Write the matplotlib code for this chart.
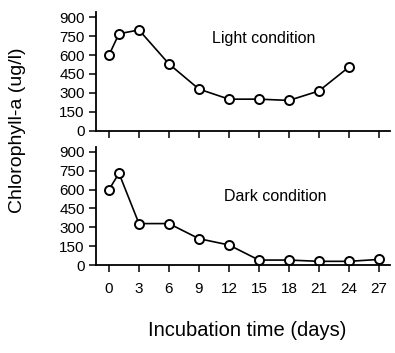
import matplotlib
matplotlib.use('Agg')
import matplotlib.pyplot as plt

plt.rcParams['font.family'] = ['Liberation Sans', 'DejaVu Sans']

days_light = [0, 1, 3, 6, 9, 12, 15, 18, 21, 24]
chl_light = [600, 770, 800, 530, 330, 250, 250, 240, 315, 505]

days_dark = [0, 1, 3, 6, 9, 12, 15, 18, 21, 24, 27]
chl_dark = [600, 730, 330, 330, 210, 160, 40, 40, 30, 30, 45]

xticks = [0, 3, 6, 9, 12, 15, 18, 21, 24, 27]
yticks = [0, 150, 300, 450, 600, 750, 900]

fig = plt.figure(figsize=(3.95, 3.53), dpi=100)
ax1 = fig.add_axes([0.243, 0.630, 0.744, 0.335])
ax2 = fig.add_axes([0.243, 0.249, 0.744, 0.335])

for ax, x, y, label, pos in [(ax1, days_light, chl_light, 'Light condition', (0.57, 0.78)),
                             (ax2, days_dark, chl_dark, 'Dark condition', (0.61, 0.58))]:
    ax.plot(x, y, color='black', lw=1.2, marker='o', markersize=6.5,
            markerfacecolor='white', markeredgecolor='black', markeredgewidth=1.4)
    ax.set_xlim(-1.3, 28.1)
    ax.set_ylim(0, 940)
    ax.set_xticks(xticks)
    ax.set_yticks(yticks)
    for s in ['top', 'right']:
        ax.spines[s].set_visible(False)
    for s in ['left', 'bottom']:
        ax.spines[s].set_linewidth(1.3)
    ax.tick_params(direction='out', length=5, width=1.1, labelsize=11, pad=3)
    ax.text(pos[0], pos[1], label, transform=ax.transAxes, ha='center', va='center', fontsize=11.5)

ax1.set_xticklabels([])
ax2.tick_params(axis='x', pad=7)

fig.text(0.045, 0.63, 'Chlorophyll-a (ug/l)', rotation=90, ha='center', va='center', fontsize=14)
fig.text(0.625, 0.065, 'Incubation time (days)', ha='center', va='center', fontsize=14.5)

fig.savefig('out.png', dpi=100)
